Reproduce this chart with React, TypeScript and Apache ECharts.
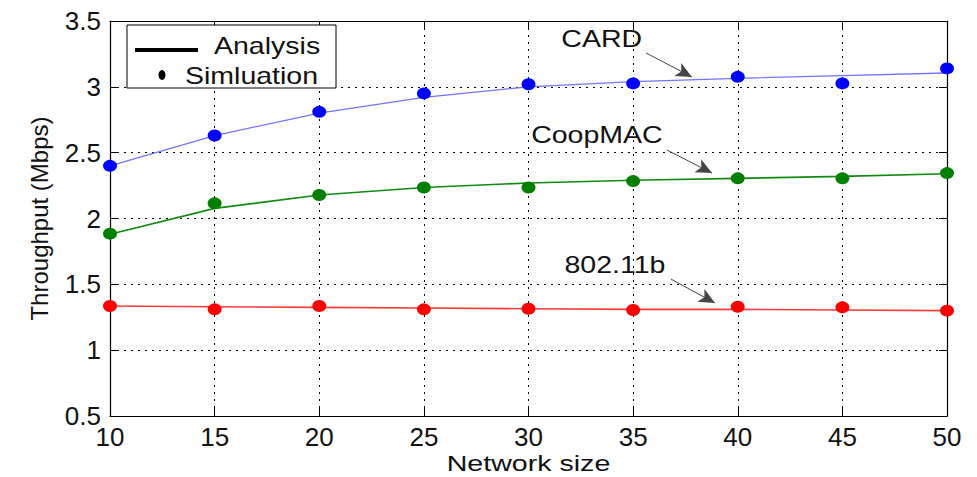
import React, { useEffect, useRef } from "react";
import * as echarts from "echarts";

const networkSize = [10, 15, 20, 25, 30, 35, 40, 45, 50];

const cardAnalysis = [2.40, 2.63, 2.80, 2.92, 3.00, 3.04, 3.065, 3.085, 3.105];
const cardSim = [2.40, 2.63, 2.81, 2.95, 3.02, 3.026, 3.076, 3.026, 3.14];

const coopAnalysis = [1.88, 2.077, 2.178, 2.235, 2.27, 2.29, 2.305, 2.32, 2.34];
const coopSim = [1.885, 2.115, 2.178, 2.235, 2.235, 2.284, 2.305, 2.305, 2.345];

const dotAnalysis = [1.335, 1.33, 1.325, 1.32, 1.315, 1.31, 1.31, 1.305, 1.30];
const dotSim = [1.335, 1.31, 1.335, 1.31, 1.315, 1.305, 1.33, 1.325, 1.30];

const yTicks = { min: 0.5, max: 3.5, interval: 0.5 };
const xTicks = { min: 10, max: 50, interval: 5 };

const xTitle = "Network size";
const yTitle = "Throughput (Mbps)";

// annotations in data coordinates: label centre, arrow start, arrow tip
const annotations = [
  { text: "CARD", label: [33.5, 3.367], from: [35.62, 3.257], to: [37.81, 3.075] },
  { text: "CoopMAC", label: [33.27, 2.634], from: [36.62, 2.52], to: [38.77, 2.345] },
  { text: "802.11b", label: [34.13, 1.647], from: [36.81, 1.54], to: [38.91, 1.358] },
];

const legendItems = ["Analysis", "Simluation"];

const FONT = "Liberation Sans, Arial, sans-serif";
const STRETCH = 1.24;

export default function App() {
  const ref = useRef<HTMLDivElement>(null);
  useEffect(() => {
    if (!ref.current) return;
    const chart = echarts.init(ref.current, undefined, { renderer: "svg" });
    const pair = (ys: number[]) => networkSize.map((x, i) => [x, ys[i]]);
    const tick = { show: true, inside: true, length: 8, lineStyle: { color: "#000", width: 1 } };
    const axisLine = { show: true, lineStyle: { color: "#000", width: 1.2 } };
    const grid = { show: true, lineStyle: { color: "#000", width: 1, type: [2, 5] as any } };
    const label = { fontSize: 26, color: "#111", fontFamily: FONT };
    const lineSeries = (name: string, ys: number[], color: string, width: number) => ({
      type: "line",
      name,
      data: pair(ys),
      showSymbol: false,
      symbol: "none",
      lineStyle: { color, width },
      z: 3,
    });
    const simSeries = (name: string, ys: number[], color: string) => ({
      type: "scatter",
      name,
      data: pair(ys),
      symbol: "circle",
      symbolSize: [14, 12],
      itemStyle: { color, opacity: 1 },
      z: 4,
    });
    chart.setOption({
      animation: false,
      backgroundColor: "#fff",
      grid: {
        left: 110,
        right: 30,
        top: 21,
        bottom: 61,
        containLabel: false,
        outerBoundsMode: "none",
      },
      xAxis: [
        {
          type: "value",
          position: "bottom",
          ...xTicks,
          axisLine,
          axisTick: tick,
          axisLabel: { ...label, margin: 8 },
          splitLine: grid,
        },
        {
          type: "value",
          position: "top",
          ...xTicks,
          axisLine,
          axisTick: tick,
          axisLabel: { show: false },
          splitLine: { show: false },
        },
      ],
      yAxis: [
        {
          type: "value",
          position: "left",
          ...yTicks,
          name: yTitle,
          nameLocation: "middle",
          nameGap: 59,
          nameRotate: 90,
          nameTextStyle: { fontSize: 24, color: "#111", fontFamily: FONT },
          axisLine,
          axisTick: tick,
          axisLabel: { ...label, margin: 9 },
          splitLine: grid,
        },
        {
          type: "value",
          position: "right",
          ...yTicks,
          axisLine,
          axisTick: tick,
          axisLabel: { show: false },
          splitLine: { show: false },
        },
      ],
      series: [
        lineSeries("CARD analysis", cardAnalysis, "#7373ff", 1.3),
        lineSeries("CoopMAC analysis", coopAnalysis, "#108a10", 1.6),
        lineSeries("802.11b analysis", dotAnalysis, "#ff3838", 1.6),
        simSeries("CARD simulation", cardSim, "#0000ff"),
        simSeries("CoopMAC simulation", coopSim, "#007f00"),
        simSeries("802.11b simulation", dotSim, "#ff0000"),
        {
          type: "line",
          name: "annotations",
          data: [],
          markLine: {
            silent: true,
            symbol: ["none", "arrow"],
            symbolSize: [11, 16],
            label: { show: false },
            lineStyle: { color: "#444", width: 1, type: "solid" },
            itemStyle: { color: "#000" },
            data: annotations.map((a) => [
              { coord: a.from },
              { coord: a.to, lineStyle: { color: "#444" } },
            ]),
          },
        },
      ],
    });

    const textStyle = (text: string, align: string, fontSize = 23) => ({
      text,
      fontSize,
      fill: "#111",
      fontFamily: FONT,
      align,
      verticalAlign: "middle",
    });

    const annotationTexts = annotations.map((a) => {
      const p = chart.convertToPixel({ gridIndex: 0 }, a.label) as number[];
      return {
        type: "text",
        x: p[0],
        y: p[1],
        scaleX: STRETCH,
        style: textStyle(a.text, "center"),
        z: 11,
      };
    });

    const xMid = chart.convertToPixel({ xAxisIndex: 0 }, (xTicks.min + xTicks.max) / 2) as number;

    chart.setOption({
      graphic: [
        {
          type: "rect",
          shape: { x: 127, y: 25, width: 209, height: 63 },
          style: { fill: "#fff", stroke: "#000", lineWidth: 1 },
          z: 10,
        },
        {
          type: "line",
          shape: { x1: 135, y1: 50, x2: 198, y2: 50 },
          style: { stroke: "#000", lineWidth: 4 },
          z: 11,
        },
        {
          type: "text",
          x: 214,
          y: 46,
          scaleX: STRETCH,
          style: textStyle(legendItems[0], "left"),
          z: 11,
        },
        {
          type: "ellipse",
          shape: { cx: 162, cy: 75, rx: 3.5, ry: 5 },
          style: { fill: "#000" },
          z: 11,
        },
        {
          type: "text",
          x: 185,
          y: 76,
          scaleX: STRETCH,
          style: textStyle(legendItems[1], "left"),
          z: 11,
        },
        {
          type: "text",
          x: xMid,
          y: 463,
          scaleX: 1.3,
          style: textStyle(xTitle, "center", 22),
          z: 11,
        },
        ...annotationTexts,
      ],
    });
    return () => chart.dispose();
  }, []);
  return (
    <div
      ref={ref}
      style={{ position: "fixed", left: 0, top: 0, width: 977, height: 477, background: "#fff" }}
    />
  );
}
